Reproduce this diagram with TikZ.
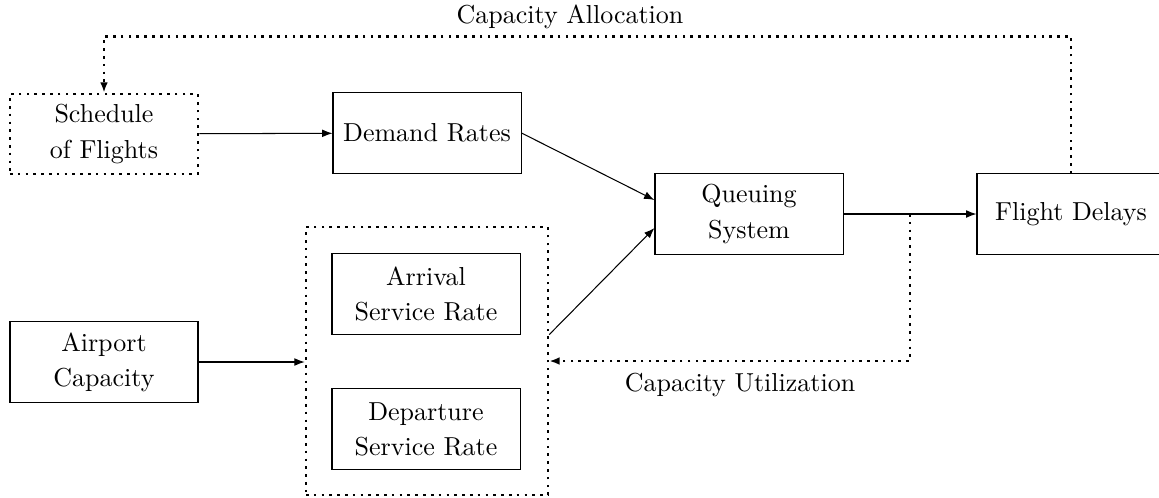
\documentclass[tikz,border=0pt]{standalone}
\usetikzlibrary{arrows.meta,calc}
\begin{document}
\begin{tikzpicture}[x=0.3845pt,y=-0.3845pt,
  every node/.style={font=\fontsize{10}{13.5}\selectfont},
  box/.style={draw, align=center, minimum width=72.3pt, minimum height=30.8pt, inner sep=1pt},
  dbox/.style={draw, dotted, line width=1pt, align=center, minimum width=72.3pt, minimum height=30.8pt, inner sep=1pt},
  arr/.style={-{Latex[length=4pt,width=3pt]}},
  darr/.style={dotted, line width=1pt, -{Latex[length=4pt,width=3pt]}}]
\useasboundingbox (0,0) rectangle (1159,497);
\node[dbox] (sched) at (104,134) {Schedule\\of Flights};
\node[box] (demand) at (427,133) {Demand Rates};
\node[box] (queue) at (749,214) {Queuing\\System};
\node[box] (delay) at (1071,214) {Flight Delays};
\node[box] (airport) at (104,362) {Airport\\Capacity};
\node[box] (arrival) at (426,294) {Arrival\\Service Rate};
\node[box] (dep) at (426,429) {Departure\\Service Rate};
\node[draw, dotted, line width=1pt, minimum width=93pt, minimum height=103pt, inner sep=0pt] (big) at (427,361) {};
\node (alloc) at (570,17) {Capacity Allocation};
\node (util) at (740,385) {Capacity Utilization};
\coordinate (utop) at (910,214);
\draw[arr] (sched) -- (demand);
\draw[arr] (demand.east) -- ($(queue.west)+(0,-14)$);
\draw[arr] (big.east |- arrival.south) -- ($(queue.west)+(0,14)$);
\draw[arr] (airport.east) -- (big.west |- airport.east);
\draw[arr] (queue) -- (delay);
\draw[darr] (utop) |- (big.east);
\draw[darr] (delay.north) -- ++(0,-137) -| (sched.north);
\end{tikzpicture}
\end{document}
